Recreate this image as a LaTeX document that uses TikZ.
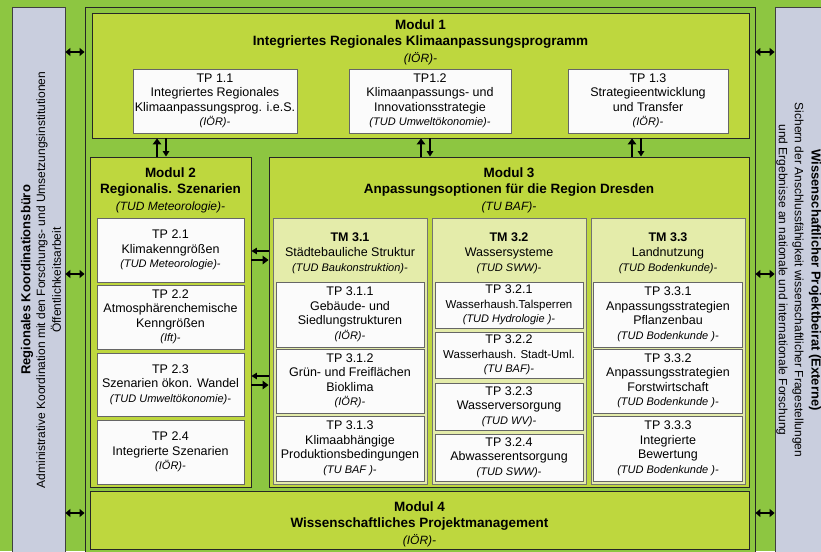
\documentclass[tikz,border=0pt]{standalone}
\usepackage{fontspec}
\setmainfont{Liberation Sans}
\usetikzlibrary{arrows.meta}

\definecolor{bggreen}{RGB}{141,198,65}
\definecolor{modgreen}{RGB}{190,215,62}
\definecolor{tmgreen}{RGB}{228,236,170}
\definecolor{tpwhite}{RGB}{251,251,251}
\definecolor{panelgray}{RGB}{201,206,222}

\newcommand{\instlabel}[1]{{\itshape\fontsize{11}{14.5}\selectfont #1}}
\newcommand{\modlabel}[1]{{\normalfont\itshape\fontsize{12}{16.5}\selectfont #1}}

\begin{document}
\begin{tikzpicture}[x=1pt,y=-1pt,
    panel/.style={draw=black!75, line width=0.8pt, fill=panelgray, inner sep=0pt},
    frame/.style={draw=black!85, line width=0.9pt, fill=bggreen, inner sep=0pt},
    modbox/.style={draw=black!85, line width=0.9pt, fill=modgreen, inner sep=0pt},
    tmbox/.style={draw=black!55, line width=0.9pt, fill=tmgreen, inner sep=0pt},
    tpbox/.style={draw=black!60, line width=1pt, fill=tpwhite, inner sep=0pt, align=center,
        font=\fontsize{12.5}{14.5}\selectfont},
    modtitle/.style={align=center, inner sep=0pt, font=\bfseries\fontsize{13.5}{16.5}\selectfont},
    tmtitle/.style={align=center, inner sep=0pt, font=\fontsize{12.5}{15}\selectfont},
    sidehead/.style={inner sep=0pt, font=\bfseries\fontsize{13}{15}\selectfont},
    sidetext/.style={inner sep=0pt, font=\fontsize{12}{14}\selectfont},
    dbl/.style={{Triangle[length=5pt,width=8pt]}-{Triangle[length=5pt,width=8pt]}, line width=1.8pt},
    fat/.style={-{Triangle[length=6pt,width=8.5pt]}, line width=2.8pt},
    slim/.style={-{Triangle[length=5.5pt,width=6.5pt]}, line width=1.3pt}]

    \useasboundingbox (0,0) rectangle (821,551);
    \fill [bggreen] (0,0) rectangle (821,551);

    % side panels and main frame
    \node [panel, minimum width=53pt, minimum height=553pt] (lp) at (38.5,283.5) {};
    \node [panel, minimum width=60pt, minimum height=553pt] (rp) at (805,283.5) {};
    \node [frame, minimum width=670pt, minimum height=553pt] (fr) at (420,283.5) {};

    \node [sidehead, rotate=90] (lpa) at (27,280) {Regionales Koordinationsbüro};
    \node [sidetext, rotate=90] (lpb) at (42,280) {Administrative Koordination mit den Forschungs- und Umsetzungsinstitutionen};
    \node [sidetext, rotate=90] (lpc) at (56,280) {Öffentlichkeitsarbeit};

    \node [sidehead, rotate=-90] (rpa) at (815,280) {Wissenschaftlicher Projektbeirat (Externe)};
    \node [sidetext, rotate=-90] (rpb) at (798,280) {Sichern der Anschlussfähigkeit wissenschaftlicher Fragestellungen};
    \node [sidetext, rotate=-90] (rpc) at (782,280) {und Ergebnisse an nationale und internationale Forschung};

    % Modul 1
    \node [modbox, minimum width=657pt, minimum height=125pt] (m1) at (420.5,75.5) {};
    \node [modtitle] (m1t) at (420.5,42) {Modul 1\\Integriertes Regionales Klimaanpassungsprogramm\\\modlabel{(IÖR)-}};
    \node [tpbox, minimum width=164pt, minimum height=64pt] (tp11) at (215,101) {TP 1.1\\Integriertes Regionales\\Klimaanpassungsprog. i.e.S.\\\instlabel{(IÖR)-}};
    \node [tpbox, minimum width=162pt, minimum height=64pt] (tp12) at (430,101) {TP1.2\\Klimaanpassungs- und\\Innovationsstrategie\\\instlabel{(TUD Umweltökonomie)-}};
    \node [tpbox, minimum width=160pt, minimum height=64pt] (tp13) at (648,101) {TP 1.3\\Strategieentwicklung\\und Transfer\\\instlabel{(IÖR)-}};

    % Modul 2
    \node [modbox, minimum width=161pt, minimum height=330pt] (m2) at (170.5,322) {};
    \node [modtitle] (m2t) at (170.5,190) {Modul 2\\Regionalis. Szenarien\\\modlabel{(TUD Meteorologie)-}};
    \node [tpbox, minimum width=147pt, minimum height=64pt] (tp21) at (170.5,250) {TP 2.1\\Klimakenngrößen\\\instlabel{(TUD Meteorologie)-}};
    \node [tpbox, minimum width=147pt, minimum height=64pt] (tp22) at (170.5,317) {TP 2.2\\Atmosphärenchemische\\Kenngrößen\\\instlabel{(Ift)-}};
    \node [tpbox, minimum width=147pt, minimum height=63pt] (tp23) at (170.5,384.5) {TP 2.3\\Szenarien ökon. Wandel\\\instlabel{(TUD Umweltökonomie)-}};
    \node [tpbox, minimum width=147pt, minimum height=64pt] (tp24) at (170.5,452) {TP 2.4\\Integrierte Szenarien\\\instlabel{(IÖR)-}};

    % Modul 3
    \node [modbox, minimum width=480pt, minimum height=330pt] (m3) at (509,322) {};
    \node [modtitle] (m3t) at (509,190) {Modul 3\\Anpassungsoptionen für die Region Dresden\\\modlabel{(TU BAF)-}};

    \node [tmbox, minimum width=154pt, minimum height=266pt] (tm31) at (350,351) {};
    \node [tmbox, minimum width=154pt, minimum height=266pt] (tm32) at (509,351) {};
    \node [tmbox, minimum width=154pt, minimum height=266pt] (tm33) at (668,351) {};
    \node [tmtitle] (tm31t) at (350,253) {\textbf{TM 3.1}\\Städtebauliche Struktur\\\instlabel{(TUD Baukonstruktion)-}};
    \node [tmtitle] (tm32t) at (509,253) {\textbf{TM 3.2}\\Wassersysteme\\\instlabel{(TUD SWW)-}};
    \node [tmtitle] (tm33t) at (668,253) {\textbf{TM 3.3}\\Landnutzung\\\instlabel{(TUD Bodenkunde)-}};

    \node [tpbox, minimum width=148pt, minimum height=65pt] (tp311) at (350,314.5) {TP 3.1.1\\Gebäude- und\\Siedlungstrukturen\\\instlabel{(IÖR)-}};
    \node [tpbox, minimum width=148pt, minimum height=64pt] (tp312) at (350,381) {TP 3.1.2\\Grün- und Freiflächen\\Bioklima\\\instlabel{(IÖR)-}};
    \node [tpbox, minimum width=148pt, minimum height=65pt] (tp313) at (350,448.5) {TP 3.1.3\\Klimaabhängige\\Produktionsbedingungen\\\instlabel{(TU BAF )-}};

    \node [tpbox, minimum width=148pt, minimum height=46pt] (tp321) at (509,305) {TP 3.2.1\\{\fontsize{11.5}{14}\selectfont Wasserhaush.Talsperren}\\\instlabel{(TUD Hydrologie )-}};
    \node [tpbox, minimum width=148pt, minimum height=46pt] (tp322) at (509,355) {TP 3.2.2\\{\fontsize{11.5}{14}\selectfont Wasserhaush. Stadt-Uml.}\\\instlabel{(TU BAF)-}};
    \node [tpbox, minimum width=148pt, minimum height=47pt] (tp323) at (509,406.5) {TP 3.2.3\\Wasserversorgung\\\instlabel{(TUD WV)-}};
    \node [tpbox, minimum width=148pt, minimum height=47pt] (tp324) at (509,457.5) {TP 3.2.4\\Abwasserentsorgung\\\instlabel{(TUD SWW)-}};

    \node [tpbox, minimum width=149pt, minimum height=65pt] (tp331) at (668,314.5) {TP 3.3.1\\Anpassungsstrategien\\Pflanzenbau\\\instlabel{(TUD Bodenkunde )-}};
    \node [tpbox, minimum width=149pt, minimum height=64pt] (tp332) at (668,381) {TP 3.3.2\\Anpassungsstrategien\\Forstwirtschaft\\\instlabel{(TUD Bodenkunde )-}};
    \node [tpbox, minimum width=149pt, minimum height=65pt] (tp333) at (668,448.5) {TP 3.3.3\\Integrierte\\Bewertung\\\instlabel{(TUD Bodenkunde )-}};

    % Modul 4
    \node [modbox, minimum width=659pt, minimum height=58pt] (m4) at (419.5,520) {};
    \node [modtitle] (m4t) at (419.5,524) {Modul 4\\Wissenschaftliches Projektmanagement\\\modlabel{(IÖR)-}};

    % arrows
    \coordinate (h1) at (0,52);
    \coordinate (h2) at (0,274);
    \coordinate (h3) at (0,513);
    \foreach \h in {h1,h2,h3} {
        \draw [dbl] (lp.east |- \h) -- (fr.west |- \h);
        \draw [dbl] (fr.east |- \h) -- (rp.west |- \h);
    }

    \coordinate (v1) at (157,0);
    \coordinate (v2) at (166,0);
    \coordinate (v3) at (421,0);
    \coordinate (v4) at (430,0);
    \coordinate (v5) at (632,0);
    \coordinate (v6) at (641,0);
    \draw [fat] (v1 |- m2.north) -- (v1 |- m1.south);
    \draw [slim] (v2 |- m1.south) -- (v2 |- m2.north);
    \draw [fat] (v3 |- m3.north) -- (v3 |- m1.south);
    \draw [slim] (v4 |- m1.south) -- (v4 |- m3.north);
    \draw [fat] (v5 |- m3.north) -- (v5 |- m1.south);
    \draw [slim] (v6 |- m1.south) -- (v6 |- m3.north);

    \coordinate (w1) at (0,251);
    \coordinate (w2) at (0,260);
    \coordinate (w3) at (0,376);
    \coordinate (w4) at (0,385);
    \draw [slim] (m3.west |- w1) -- (m2.east |- w1);
    \draw [fat] (m2.east |- w2) -- (m3.west |- w2);
    \draw [slim] (m3.west |- w3) -- (m2.east |- w3);
    \draw [fat] (m2.east |- w4) -- (m3.west |- w4);

\end{tikzpicture}
\end{document}
